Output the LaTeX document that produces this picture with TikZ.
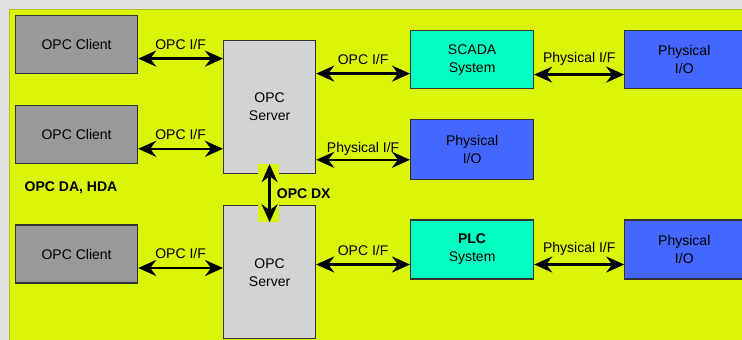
\documentclass[tikz,border=0pt]{standalone}
\usepackage{fontspec}
\setmainfont{Liberation Sans}
\usetikzlibrary{arrows.meta,positioning}

\definecolor{marble}{RGB}{224,224,224}
\definecolor{panelyellow}{RGB}{218,245,10}
\definecolor{paneledge}{RGB}{175,195,20}
\definecolor{clientgray}{RGB}{153,153,153}
\definecolor{servergray}{RGB}{211,211,211}
\definecolor{systemgreen}{RGB}{0,255,192}
\definecolor{physblue}{RGB}{68,104,255}

\begin{document}
\begin{tikzpicture}[
  x=1pt, y=-1pt, font=\fontsize{14}{18}\selectfont,
  box/.style={draw=black!80, line width=1.2pt, align=center, inner sep=2pt},
  client/.style={box, fill=clientgray, minimum width=122pt, minimum height=58pt},
  server/.style={box, fill=servergray, minimum width=92pt, minimum height=133pt},
  sysbox/.style={box, fill=systemgreen, minimum width=123pt, minimum height=58pt},
  physbox/.style={box, fill=physblue, minimum width=119pt, minimum height=58pt},
  link/.style={{Stealth[length=18pt 0 0, width=16pt 0 0, inset=6pt 0]}-{Stealth[length=18pt 0 0, width=16pt 0 0, inset=6pt 0]},
               line width=2.6pt},
  iflabel/.style={above=7pt, inner sep=1pt},
  tag/.style={font=\fontsize{14}{16}\selectfont\bfseries, inner sep=1pt},
]
  %% Background and panel
  \useasboundingbox (0,0) rectangle (742,340);
  \fill[marble] (0,0) rectangle (742,340);
  \filldraw[fill=panelyellow, draw=paneledge, line width=1pt] (9,9) rectangle (750,350);

  %% Clients
  \node[client, anchor=north west] (client1) at (15,15) {OPC Client};
  \node[client, below=31pt of client1] (client2) {OPC Client};
  \node[client, below=60pt of client2] (client3) {OPC Client};

  %% Servers
  \node[server, anchor=north west] (server1) at (223,40) {OPC\\Server};
  \node[server, below=31pt of server1] (server2) {OPC\\Server};

  %% Systems and I/O
  \node[sysbox, anchor=north west] (scada) at (410,30) {SCADA\\System};
  \node[physbox, right=90pt of scada] (iotop) {Physical\\I/O};
  \node[physbox, minimum width=123pt, minimum height=60pt,
        below=30pt of scada] (iomid) {Physical\\I/O};
  \node[sysbox, minimum height=59pt, below=39pt of iomid] (plc)
    {\textbf{PLC}\\System};
  \node[physbox, minimum height=59pt, right=90pt of plc] (iobot) {Physical\\I/O};

  %% Notches for the server link
  \fill[panelyellow] ([xshift=-12pt,yshift=-1pt]server1.south)
    rectangle ([xshift=9pt,yshift=10pt]server1.south);
  \fill[panelyellow] ([xshift=-12pt,yshift=1pt]server2.north)
    rectangle ([xshift=9pt,yshift=-17pt]server2.north);

  \node[tag] (dahda) at (71,188) {OPC DA, HDA};

  %% Arrows - clients to servers
  \draw[link] ([yshift=-14pt]client1.east) -- node[iflabel]{OPC I/F}
    ([yshift=-14pt]client1.east -| server1.west);
  \draw[link] ([yshift=-14pt]client2.east) -- node[iflabel]{OPC I/F}
    ([yshift=-14pt]client2.east -| server1.west);
  \draw[link] ([yshift=-14pt]client3.east) -- node[iflabel]{OPC I/F}
    ([yshift=-14pt]client3.east -| server2.west);

  %% Arrows - servers to systems
  \draw[link] ([yshift=-14pt]scada.west -| server1.east) -- node[iflabel]{OPC I/F}
    ([yshift=-14pt]scada.west);
  \draw[link] ([yshift=-10pt]iomid.west -| server1.east) -- node[iflabel, above=2pt]{Physical I/F}
    ([yshift=-10pt]iomid.west);
  \draw[link] ([yshift=-15pt]plc.west -| server2.east) -- node[iflabel]{OPC I/F}
    ([yshift=-15pt]plc.west);

  %% Arrows - systems to I/O
  \draw[link] ([yshift=-15pt]scada.east) -- node[iflabel]{Physical I/F}
    ([yshift=-15pt]scada.east -| iotop.west);
  \draw[link] ([yshift=-15pt]plc.east) -- node[iflabel]{Physical I/F}
    ([yshift=-15pt]plc.east -| iobot.west);

  %% OPC DX
  \draw[link] ([yshift=10pt]server1.south) -- node[tag, right=5pt]{OPC DX}
    ([yshift=-17pt]server2.north);
\end{tikzpicture}
\end{document}
